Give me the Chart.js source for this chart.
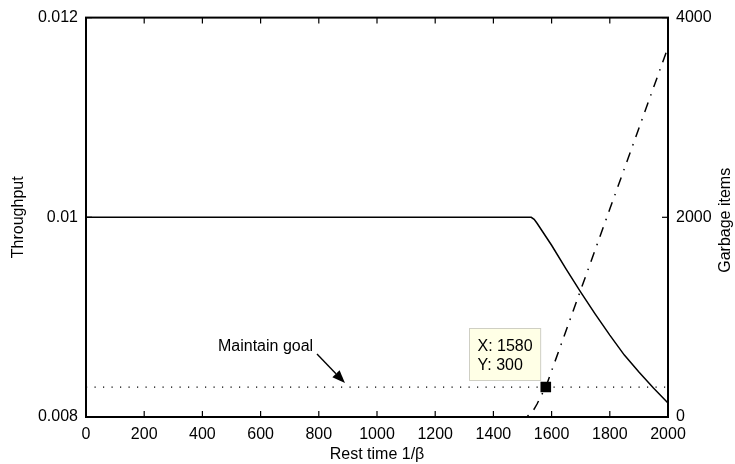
<!DOCTYPE html>
<html><head><meta charset="utf-8">
<script src="https://cdn.jsdelivr.net/npm/chart.js@4.4.1/dist/chart.umd.min.js"></script>
<style>html,body{margin:0;padding:0;background:#fff;overflow:hidden;}#wrap{width:735px;height:464px;}</style>
</head><body><div id="wrap"><canvas id="c" width="735" height="464"></canvas></div>
<script>
const FONT = '"Liberation Sans", Arial, Helvetica, sans-serif';

// tick values and labels
const xTicks = [0, 200, 400, 600, 800, 1000, 1200, 1400, 1600, 1800, 2000];
const leftTicks = [0.008, 0.01, 0.012];
const leftTickLabels = ['0.008', '0.01', '0.012'];
const rightTicks = [0, 2000, 4000];
const rightTickLabels = ['0', '2000', '4000'];

// throughput (left axis)
const throughputX = [0, 200, 400, 600, 800, 1000, 1200, 1400, 1500, 1530, 1540, 1550, 1600, 1650, 1700, 1750, 1800, 1850, 1900, 1950, 2000];
const throughputY = [0.01, 0.01, 0.01, 0.01, 0.01, 0.01, 0.01, 0.01, 0.01, 0.01, 0.00998, 0.00994, 0.00972, 0.00948, 0.00925, 0.00903, 0.00882, 0.00862, 0.00845, 0.00829, 0.00814];

// garbage items (right axis)
const garbageX = [0, 200, 400, 600, 800, 1000, 1200, 1400, 1500, 1510, 1520, 1530, 1540, 1550, 1560, 1570, 1580, 1600, 1700, 1800, 1900, 2000];
const garbageY = [0, 0, 0, 0, 0, 0, 0, 0, 0, 3, 15, 40, 80, 130, 190, 245, 300, 462, 1272, 2082, 2892, 3702];

// maintain goal (right axis)
const goalX = [0, 2000];
const goalY = [300, 300];

// data tip
const tipX = 1580;
const tipY = 300;
// arrow target on the goal line
const arrowX = 890;
const goalLabel = 'Maintain goal';

const toXY = (xs, ys) => xs.map((x, i) => ({x: x, y: ys[i]}));

function line(ctx, x1, y1, x2, y2) { ctx.beginPath(); ctx.moveTo(x1, y1); ctx.lineTo(x2, y2); ctx.stroke(); }

const framePlugin = {
  id: 'frame',
  afterDatasetsDraw(chart) {
    const ctx = chart.ctx;
    const {left, right, top, bottom} = chart.chartArea;
    const xs = chart.scales.x, ys = chart.scales.y, y2 = chart.scales.y2;
    ctx.save();
    ctx.strokeStyle = '#000';
    ctx.lineWidth = 1.2;
    const tl = 6;
    xs.ticks.forEach(t => { const p = xs.getPixelForValue(t.value); line(ctx, p, bottom, p, bottom - tl); line(ctx, p, top, p, top + tl); });
    ys.ticks.forEach(t => { const p = ys.getPixelForValue(t.value); line(ctx, left, p, left + tl, p); });
    y2.ticks.forEach(t => { const p = y2.getPixelForValue(t.value); line(ctx, right, p, right - tl, p); });
    ctx.lineWidth = 2;
    ctx.strokeRect(left, top, right - left, bottom - top);
    ctx.restore();
  },
  afterDraw(chart) {
    const ctx = chart.ctx;
    const xs = chart.scales.x, y2 = chart.scales.y2;
    const ca = chart.chartArea;
    ctx.save();
    ctx.font = '16px ' + FONT;
    ctx.fillStyle = '#000';
    // right axis title, reading bottom to top
    ctx.save();
    ctx.translate(726, (ca.top + ca.bottom) / 2 + 3);
    ctx.rotate(-Math.PI / 2);
    ctx.textAlign = 'center';
    ctx.textBaseline = 'middle';
    ctx.fillText('Garbage items', 0, 0);
    ctx.restore();

    // data tip box
    const px = xs.getPixelForValue(tipX), py = y2.getPixelForValue(tipY);
    const lines = ['X: ' + tipX, 'Y: ' + tipY];
    const w = Math.max(...lines.map(s => ctx.measureText(s).width)) + 16;
    const bx = Math.round(px - 6 - w) + 0.5, by = Math.round(py - 59) + 0.5;
    ctx.fillStyle = '#ffffe6';
    ctx.fillRect(bx, by, w, 52);
    ctx.strokeStyle = '#cfcfc4';
    ctx.lineWidth = 1;
    ctx.strokeRect(bx, by, w, 52);
    ctx.fillStyle = '#000';
    ctx.textAlign = 'left';
    ctx.textBaseline = 'alphabetic';
    ctx.fillText(lines[0], bx + 8, py - 36);
    ctx.fillText(lines[1], bx + 8, py - 17);

    // maintain goal annotation
    const tx = xs.getPixelForValue(arrowX), ty = y2.getPixelForValue(goalY[0]) - 4;
    const sx = tx - 28, sy = ty - 29;
    ctx.fillText(goalLabel, tx - 127, ty - 32);
    const ang = Math.atan2(ty - sy, tx - sx);
    const hl = 13, hw = 5;
    const bxh = tx - hl * Math.cos(ang), byh = ty - hl * Math.sin(ang);
    ctx.strokeStyle = '#000';
    ctx.lineWidth = 1.4;
    line(ctx, sx, sy, bxh, byh);
    ctx.beginPath();
    ctx.moveTo(tx, ty);
    ctx.lineTo(bxh + hw * Math.sin(ang), byh - hw * Math.cos(ang));
    ctx.lineTo(bxh - hw * Math.sin(ang), byh + hw * Math.cos(ang));
    ctx.closePath();
    ctx.fill();
    ctx.restore();
  }
};

const tickFont = {family: FONT, size: 16};

new Chart(document.getElementById('c').getContext('2d'), {
  type: 'line',
  data: {
    datasets: [
      {label: 'tip', type: 'scatter', data: [{x: tipX, y: tipY}], yAxisID: 'y2', pointStyle: 'rect', pointRadius: 7.5, pointBackgroundColor: '#000', pointBorderWidth: 0, showLine: false, order: 0},
      {label: 'Throughput', data: toXY(throughputX, throughputY), yAxisID: 'y', borderColor: '#000', borderWidth: 1.5, pointRadius: 0, fill: false, tension: 0, order: 2},
      {label: 'Garbage items', data: toXY(garbageX, garbageY), yAxisID: 'y2', borderColor: '#000', borderWidth: 1.5, borderDash: [10, 7.5, 1.5, 7.5], pointRadius: 0, fill: false, tension: 0, order: 1},
      {label: 'Maintain goal', data: toXY(goalX, goalY), yAxisID: 'y2', borderColor: '#000', borderWidth: 1.2, borderDash: [1.2, 7.3], pointRadius: 0, fill: false, order: 3}
    ]
  },
  options: {
    responsive: false,
    animation: false,
    layout: {padding: {top: 16, left: 0, right: 0, bottom: 0}},
    plugins: {legend: {display: false}, tooltip: {enabled: false}},
    events: [],
    scales: {
      x: {
        type: 'linear', position: 'bottom', min: 0, max: 2000,
        afterBuildTicks: s => { s.ticks = xTicks.map(v => ({value: v})); },
        afterFit: s => { s.height = 47; },
        grid: {display: false, drawTicks: false}, border: {display: false},
        ticks: {font: tickFont, color: '#000', padding: 7.5, maxRotation: 0, autoSkip: false, callback: v => String(v)},
        title: {display: true, text: 'Rest time 1/β', font: tickFont, color: '#000', padding: {top: 0, bottom: 0}}
      },
      y: {
        type: 'linear', position: 'left', min: 0.008, max: 0.012,
        afterBuildTicks: s => { s.ticks = leftTicks.map(v => ({value: v})); },
        afterFit: s => { s.width = 86; },
        grid: {display: false, drawTicks: false}, border: {display: false},
        ticks: {font: tickFont, color: '#000', padding: 8, callback: v => leftTickLabels[leftTicks.indexOf(v)]},
        title: {display: true, text: 'Throughput', font: tickFont, color: '#000', padding: {top: 9, bottom: 0}}
      },
      y2: {
        type: 'linear', position: 'right', min: 0, max: 4000,
        afterBuildTicks: s => { s.ticks = rightTicks.map(v => ({value: v})); },
        afterFit: s => { s.width = 67; },
        grid: {display: false, drawTicks: false}, border: {display: false},
        ticks: {font: tickFont, color: '#000', padding: 8, callback: v => rightTickLabels[rightTicks.indexOf(v)]},
        title: {display: false}
      }
    }
  },
  plugins: [framePlugin]
});
</script>
</body></html>
